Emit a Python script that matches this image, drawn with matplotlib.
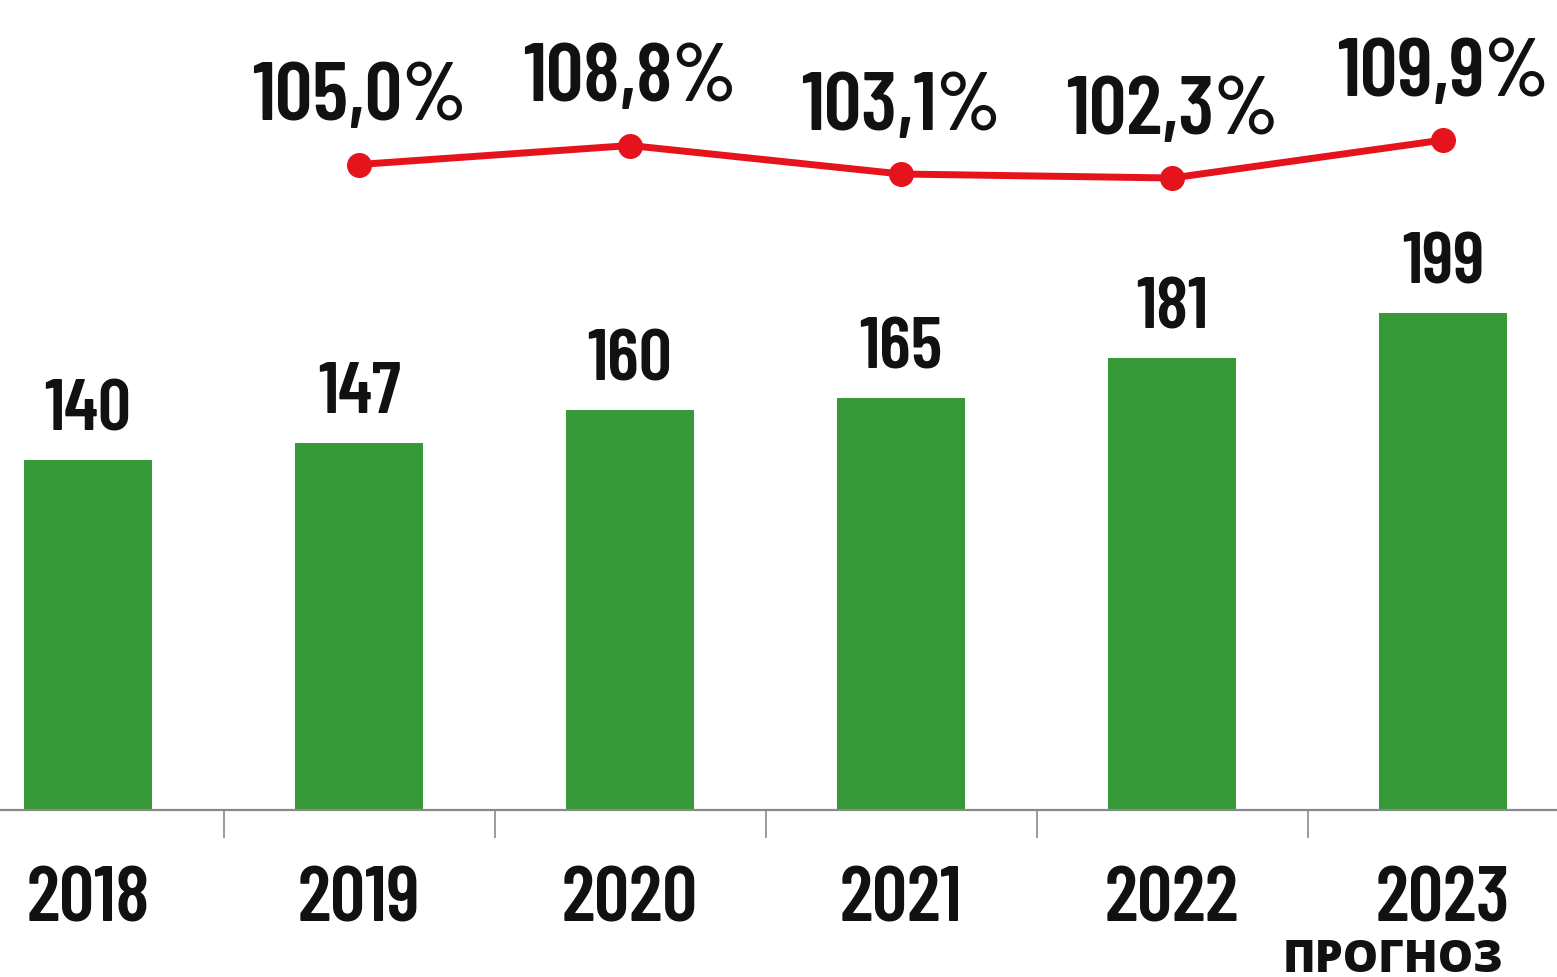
import numpy as np
import matplotlib.pyplot as plt

# data
years = ['2018', '2019', '2020', '2021', '2022', '2023']
values = [140, 147, 160, 165, 181, 199]
growth_years = ['2019', '2020', '2021', '2022', '2023']
growth = [105.0, 108.8, 103.1, 102.3, 109.9]
forecast_note = 'ПРОГНОЗ'

GREEN = '#359a37'
RED = '#e5131b'
NARROW = ['Barlow Condensed', 'Oswald', 'DejaVu Sans']

fig = plt.figure(figsize=(15.57, 9.77), dpi=100)
ax = fig.add_axes([0, 167 / 977, 1, 810 / 977])

x = np.arange(len(years))
ax.bar(x, values, width=0.47, color=GREEN, zorder=2)
ax.set_xlim(-0.325, 5.42)
ax.set_ylim(0, 324)

# value labels above bars
for xi, v in zip(x, values):
    ax.annotate(str(v), (xi, v), xytext=(0, 21), textcoords='offset points',
                ha='center', va='baseline', fontsize=53, fontweight=600,
                family=NARROW, color='#111111')

# year labels under the axis
for xi, y in zip(x, years):
    ax.annotate(y, (xi, 0), xytext=(0, -80), textcoords='offset points',
                ha='center', va='baseline', fontsize=56, fontweight=600,
                family=NARROW, color='#111111', annotation_clip=False)

# axis line and separator ticks
for s in ['top', 'right', 'left']:
    ax.spines[s].set_visible(False)
ax.spines['bottom'].set_color('#8a8a8a')
ax.spines['bottom'].set_linewidth(1.6)
ax.set_yticks([])
ax.set_xticks(x[:-1] + 0.5)
ax.set_xticklabels([])
ax.tick_params(axis='x', length=20, width=1.2, color='#8a8a8a', direction='out')

# growth line on its own scale
ax2 = ax.twinx()
ax2.set_ylim(-24.1, 137.9)
gx = [years.index(g) for g in growth_years]
ax2.plot(gx, growth, color=RED, linewidth=5, marker='o', markersize=17,
         zorder=3, solid_capstyle='round')
for xi, g in zip(gx, growth):
    ax2.annotate(f'{g:.1f}%'.replace('.', ','), (xi, g), xytext=(0, 32),
                 textcoords='offset points', ha='center', va='baseline',
                 fontsize=60, fontweight=600, family=NARROW, color='#111111')
ax2.axis('off')

# forecast note under the last year (kept just inside the bottom edge)
fig.text(1503 / 1557, 5 / 977, forecast_note, ha='right', va='baseline',
         fontsize=32, fontweight=800, family=['Open Sans', 'DejaVu Sans'],
         color='#111111')

fig.savefig('out.png', dpi=100, facecolor='white')
